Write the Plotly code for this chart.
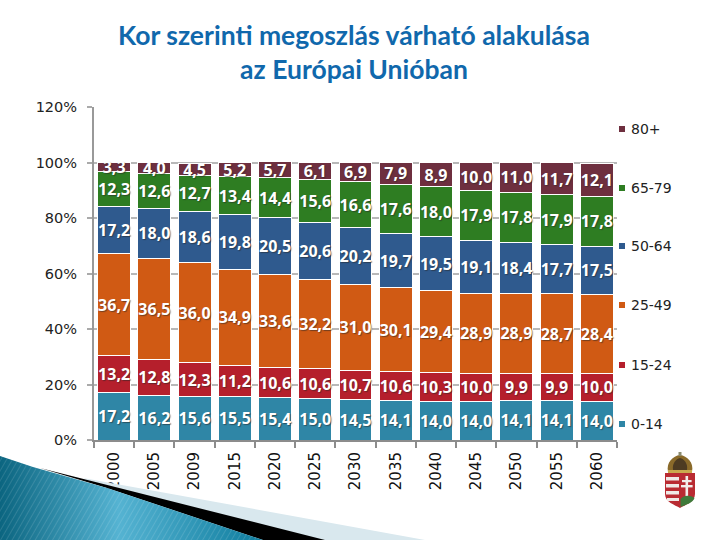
"""
Age distribution forecast for the EU, stacked bars with slide decoration.
"""

import base64

import plotly.graph_objects as go


YEARS = ["2000", "2005", "2009", "2015", "2020", "2025", "2030",
         "2035", "2040", "2045", "2050", "2055", "2060"]

AGE_0_14 = [17.2, 16.2, 15.6, 15.5, 15.4, 15.0, 14.5, 14.1, 14.0, 14.0, 14.1, 14.1, 14.0]
AGE_15_24 = [13.2, 12.8, 12.3, 11.2, 10.6, 10.6, 10.7, 10.6, 10.3, 10.0, 9.9, 9.9, 10.0]
AGE_25_49 = [36.7, 36.5, 36.0, 34.9, 33.6, 32.2, 31.0, 30.1, 29.4, 28.9, 28.9, 28.7, 28.4]
AGE_50_64 = [17.2, 18.0, 18.6, 19.8, 20.5, 20.6, 20.2, 19.7, 19.5, 19.1, 18.4, 17.7, 17.5]
AGE_65_79 = [12.3, 12.6, 12.7, 13.4, 14.4, 15.6, 16.6, 17.6, 18.0, 17.9, 17.8, 17.9, 17.8]
AGE_80 = [3.3, 4.0, 4.5, 5.2, 5.7, 6.1, 6.9, 7.9, 8.9, 10.0, 11.0, 11.7, 12.1]

Y_TICKS = [0, 20, 40, 60, 80, 100, 120]
Y_LABELS = ["0%", "20%", "40%", "60%", "80%", "100%", "120%"]

SERIES = [
    ("0-14", AGE_0_14, "#2f86a6"),
    ("15-24", AGE_15_24, "#b51f2c"),
    ("25-49", AGE_25_49, "#d05a14"),
    ("50-64", AGE_50_64, "#2f5a8e"),
    ("65-79", AGE_65_79, "#2e7d22"),
    ("80+", AGE_80, "#6e2f3f"),
]
LEGEND_Y = {"80+": 129, "65-79": 188, "50-64": 246, "25-49": 305, "15-24": 365, "0-14": 424}

# plot area in page pixels
LEFT, RIGHT, TOP, BOTTOM = 94, 617, 107, 440

SWOOSH_SVG = """<svg xmlns="http://www.w3.org/2000/svg" width="450" height="90" viewBox="0 450 450 90">
<defs>
<linearGradient id="g" x1="0" y1="0" x2="1" y2="0">
<stop offset="0" stop-color="#0b6580"/><stop offset="0.45" stop-color="#55b3d2"/>
<stop offset="1" stop-color="#0f7d9e"/></linearGradient>
<pattern id="p" width="5" height="5" patternUnits="userSpaceOnUse" patternTransform="rotate(30)">
<rect width="1" height="5" fill="#ffffff" opacity="0.12"/></pattern>
</defs>
<polygon points="83,478 425,540 263,540 107,488" fill="#d9e8ee"/>
<polygon points="40,468 325,540 263,540 107,488" fill="#000000"/>
<polygon points="0,456 33,467 107,488 263,540 0,540" fill="url(#g)"/>
<polygon points="0,456 33,467 107,488 263,540 0,540" fill="url(#p)"/>
</svg>"""

CREST_SVG = """<svg xmlns="http://www.w3.org/2000/svg" width="30" height="56" viewBox="0 0 30 56">
<path d="M3 20 C1 10 8 4 15 3 C22 4 29 10 27 20 Z" fill="#8a6a2a"/>
<rect x="13.5" y="0" width="3" height="4" fill="#8b8b70"/>
<path d="M8 18 C7 11 11 7 15 6 C19 7 23 11 22 18 Z" fill="#4d3b22"/>
<rect x="3" y="18" width="24" height="3" fill="#c9a94d"/>
<path d="M0 21 H30 V42 C30 50 20 53 15 56 C10 53 0 50 0 42 Z" fill="#b92b32"/>
<g fill="#efe9e6"><rect x="1" y="25" width="13" height="3.5"/><rect x="1" y="32" width="13" height="3.5"/>
<rect x="1" y="39" width="13" height="3.5"/><rect x="2" y="46" width="12" height="3"/></g>
<g fill="#f2eeea"><rect x="20.5" y="24" width="2.6" height="20"/><rect x="17" y="28" width="9.6" height="2.2"/>
<rect x="16" y="33" width="11.6" height="2.4"/></g>
<path d="M15.5 55 V47 C19 43 25 43 29.5 46 C28 51 20 53 15.5 55 Z" fill="#3f7a3a"/>
</svg>"""


def px_x(value):
    return (value - LEFT) / (RIGHT - LEFT)


def px_y(value):
    return (BOTTOM - value) / (BOTTOM - TOP)


def svg_uri(svg):
    return "data:image/svg+xml;base64," + base64.b64encode(svg.encode()).decode()


def page_image(svg, x, y, width, height):
    return dict(
        source=svg_uri(svg), xref="paper", yref="paper",
        x=px_x(x), y=px_y(y),
        sizex=width / (RIGHT - LEFT), sizey=height / (BOTTOM - TOP),
        xanchor="left", yanchor="top", sizing="stretch", layer="above",
    )


fig = go.Figure()
for name, values, color in SERIES:
    fig.add_trace(go.Bar(
        name=name,
        x=YEARS,
        y=values,
        marker=dict(color=color, line=dict(color="#ffffff", width=1)),
        texttemplate="%{y:.1f}",
        textposition="inside",
        insidetextanchor="middle",
        textangle=0,
        constraintext="none",
        cliponaxis=False,
        textfont=dict(family="Noto Sans", size=16, color="#ffffff", weight="bold",
                      shadow="1px 1px 1px rgba(40,40,40,0.55)"),
    ))

# legend drawn by hand, its entries are spread over the full plot height
shapes = []
annotations = []
for name, values, color in SERIES:
    y = LEGEND_Y[name]
    shapes.append(dict(
        type="rect", xref="paper", yref="paper", line_width=0, fillcolor=color,
        x0=px_x(619), x1=px_x(625), y0=px_y(y + 3), y1=px_y(y - 3),
    ))
    annotations.append(dict(
        text=name, xref="paper", yref="paper", x=px_x(629), y=px_y(y),
        xanchor="left", yanchor="middle", showarrow=False,
        font=dict(family="DejaVu Sans", size=14, color="#222222"),
    ))

fig.update_layout(
    width=720,
    height=540,
    autosize=False,
    barmode="stack",
    bargap=0.18,
    showlegend=False,
    separators=", ",
    paper_bgcolor="#ffffff",
    plot_bgcolor="#ffffff",
    margin=dict(l=LEFT, r=720 - RIGHT, t=TOP, b=540 - BOTTOM, autoexpand=False),
    title=dict(
        text="Kor szerinti megoszlás várható alakulása<br>az Európai Unióban",
        x=354 / 720,
        xanchor="center",
        y=0.917,
        yanchor="middle",
        font=dict(family="Lato", size=26.5, color="#1068ac", weight="bold"),
    ),
    shapes=shapes,
    annotations=annotations,
    images=[
        page_image(SWOOSH_SVG, 0, 450, 450, 90),
        page_image(CREST_SVG, 665, 452, 30, 56),
    ],
)
fig.update_xaxes(
    type="category",
    tickson="boundaries",
    ticks="outside",
    ticklen=6,
    tickwidth=2,
    tickcolor="#8c8c8c",
    tickangle=-90,
    ticklabelstandoff=4,
    tickfont=dict(family="DejaVu Sans", size=15, color="#111111"),
    showline=True,
    linecolor="#8c8c8c",
    linewidth=2,
    showgrid=False,
)
fig.update_yaxes(
    range=[0, 120],
    tickvals=Y_TICKS,
    ticktext=Y_LABELS,
    ticks="outside",
    ticklen=5,
    tickwidth=2,
    tickcolor="#aaaaaa",
    ticklabelstandoff=7,
    tickfont=dict(family="DejaVu Sans", size=14.5, color="#222222"),
    showline=True,
    linecolor="#999999",
    linewidth=2,
    gridcolor="#b8b8b8",
    gridwidth=2,
    zeroline=False,
)

# the page's default body margin would push the 720x540 figure off the window
fig.write_html("out.html", config=dict(displayModeBar=False),
               post_script="document.body.style.margin = '0';")
